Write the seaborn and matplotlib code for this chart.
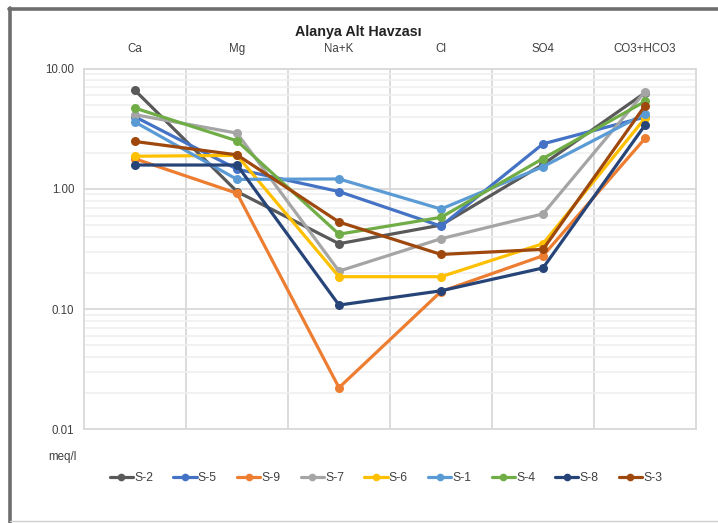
import matplotlib
matplotlib.use("Agg")
import matplotlib.pyplot as plt
from matplotlib.lines import Line2D
from matplotlib.ticker import FixedLocator, NullFormatter, LogLocator
import seaborn as sns
import pandas as pd
import numpy as np

# Ion categories (meq/l)
ions = ["Ca", "Mg", "Na+K", "Cl", "SO4", "CO3+HCO3"]

samples = ["S-2", "S-5", "S-9", "S-7", "S-6", "S-1", "S-4", "S-8", "S-3"]

s2 = [6.6, 0.95, 0.35, 0.50, 1.60, 6.3]
s5 = [3.98, 1.46, 0.95, 0.49, 2.37, 3.96]
s9 = [1.78, 0.92, 0.0222, 0.14, 0.278, 2.63]
s7 = [4.14, 2.91, 0.207, 0.385, 0.62, 6.43]
s6 = [1.87, 1.90, 0.186, 0.186, 0.35, 3.88]
s1 = [3.60, 1.20, 1.21, 0.68, 1.53, 4.22]
s4 = [4.70, 2.51, 0.42, 0.58, 1.79, 5.34]
s8 = [1.58, 1.58, 0.108, 0.142, 0.22, 3.39]
s3 = [2.48, 1.92, 0.53, 0.285, 0.314, 4.92]

series = [s2, s5, s9, s7, s6, s1, s4, s8, s3]

colors = ["#595959", "#4472C4", "#ED7D31", "#A5A5A5", "#FFC000",
          "#5B9BD5", "#70AD47", "#264478", "#9E480E"]

ytick_values = [0.01, 0.1, 1, 10]
ytick_labels = ["0.01", "0.10", "1.00", "10.00"]

rows = []
for name, vals in zip(samples, series):
    for i, v in enumerate(vals):
        rows.append({"sample": name, "pos": i, "value": v})
df = pd.DataFrame(rows)

sns.set_theme(style="white")
plt.rcParams["font.family"] = ["Liberation Sans", "DejaVu Sans"]

W, H = 718, 523
fig = plt.figure(figsize=(W / 100, H / 100), dpi=100)
fig.patch.set_facecolor("white")

ax = fig.add_axes([84 / W, 1 - 429.3 / H, (696 - 84) / W, (429.3 - 68.7) / H])
ax.set_yscale("log")
ax.set_ylim(0.01, 10)
ax.set_xlim(-0.5, 5.5)

# gridlines: minor log lines, then major decades, then category separators
ax.yaxis.set_minor_locator(LogLocator(base=10, subs=np.arange(2, 10)))
ax.yaxis.set_minor_formatter(NullFormatter())
ax.grid(which="minor", axis="y", color="#F0F0F0", lw=1.2, zorder=0)
ax.grid(which="major", axis="y", color="#D9D9D9", lw=1.3, zorder=0)
for xv in np.arange(0.5, 5.0, 1.0):
    ax.axvline(xv, color="#D9D9D9", lw=1.3, zorder=0)

sns.lineplot(data=df, x="pos", y="value", hue="sample", hue_order=samples,
             palette=colors, marker="o", markersize=6.5, markeredgewidth=0,
             linewidth=2.3, legend=False, ax=ax, zorder=3,
             solid_joinstyle="round", solid_capstyle="round")

for sp in ax.spines.values():
    sp.set_color("#D9D9D9")
    sp.set_linewidth(1.3)

ax.yaxis.set_major_locator(FixedLocator(ytick_values))
ax.set_yticklabels(ytick_labels)
ax.tick_params(axis="y", which="both", length=0, pad=7, labelsize=8.3,
               labelcolor="#404040")

ax.set_xticks(range(len(ions)))
ax.set_xticklabels(ions)
ax.xaxis.set_ticks_position("top")
ax.xaxis.set_label_position("top")
ax.tick_params(axis="x", length=0, pad=10, labelsize=8.3, labelcolor="#404040")
ax.set_xlabel("")
ax.set_ylabel("")

fig.text(62 / W, 1 - 457 / H, "meq/l", ha="center", va="center",
         fontsize=8.3, color="#404040")
fig.text(358 / W, 1 - 32 / H, "Alanya Alt Havzası", ha="center", va="center",
         fontsize=10.3, fontweight="bold", color="#222222")

handles = [Line2D([0], [0], color=c, lw=2.3, marker="o", markersize=5.5,
                  markeredgewidth=0) for c in colors]
fig.legend(handles, samples, loc="center", bbox_to_anchor=(386 / W, 1 - 478 / H),
           ncol=9, frameon=False, fontsize=8.8, handlelength=1.9,
           handletextpad=0.1, columnspacing=1.65, labelcolor="#404040")

# outer frame of the chart area
fig.add_artist(Line2D([10 / W, 10 / W], [0, 1 - 8 / H], color="#6E6E6E",
                      lw=2.6, transform=fig.transFigure))
fig.add_artist(Line2D([9 / W, 1], [1 - 9 / H, 1 - 9 / H], color="#6E6E6E",
                      lw=2.6, transform=fig.transFigure))
fig.add_artist(Line2D([10 / W, 1], [1 - 521 / H, 1 - 521 / H], color="#D0D0D0",
                      lw=1.0, transform=fig.transFigure))

fig.savefig("out.png", dpi=100, facecolor="white")
